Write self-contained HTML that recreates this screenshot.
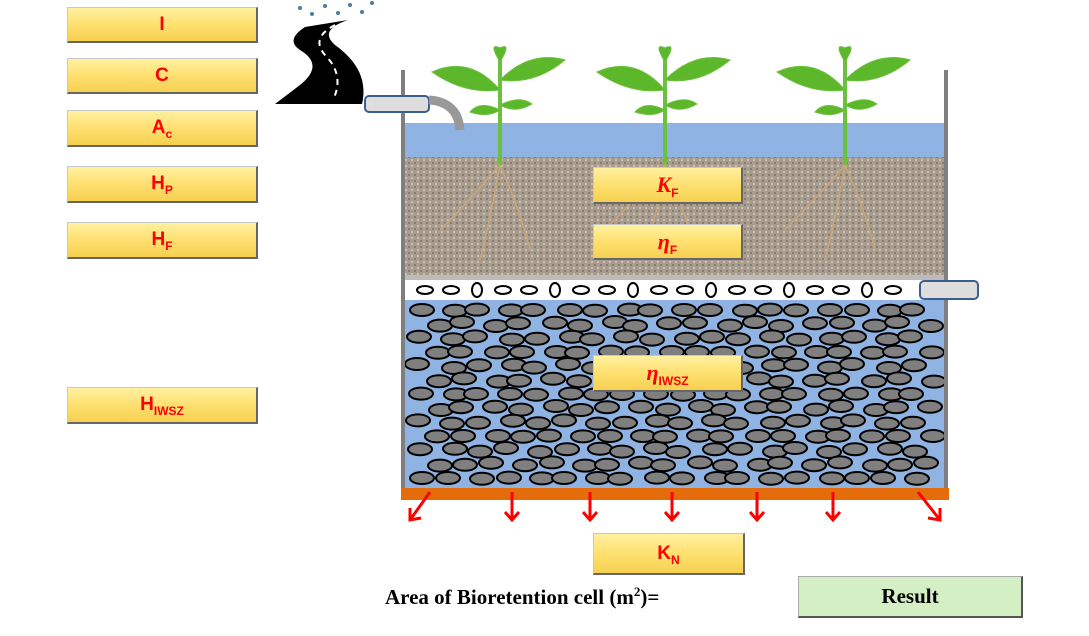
<!DOCTYPE html>
<html><head><meta charset="utf-8"><style>
body{margin:0;width:1089px;height:636px;overflow:hidden;background:#fff;font-family:"Liberation Sans",sans-serif;position:relative}
.btn{position:absolute;box-sizing:border-box;background:linear-gradient(#fff0a0,#ffe070 50%,#f5d050);border:1px solid #c8c8c8;border-right:2px solid #666;border-bottom:2px solid #666;color:#f00;font-weight:bold;font-size:19px;text-align:center;display:flex;align-items:center;justify-content:center}
.btn sub{font-size:12px;vertical-align:-5px;line-height:0}
.it{font-family:"Liberation Serif",serif;font-style:italic;font-size:22px}
</style></head><body>
<svg width="1089" height="636" style="position:absolute;left:0;top:0">
<defs>
<pattern id="soil" width="6" height="6" patternUnits="userSpaceOnUse"><rect width="6" height="6" fill="#a99d8f"/><circle cx="1" cy="1" r="1" fill="#7d7265"/><circle cx="4" cy="4" r="1" fill="#d2c9bd"/></pattern>
</defs>
<g fill="#4a7fa0"><circle cx="300" cy="8" r="2"/><circle cx="312" cy="14" r="2"/><circle cx="325" cy="6" r="2"/><circle cx="338" cy="13" r="2"/><circle cx="350" cy="5" r="2"/><circle cx="362" cy="12" r="2"/><circle cx="372" cy="3" r="2"/></g>
<path d="M275 104 L300 85 Q325 65 300 50 Q285 40 305 27 L348 20 Q318 30 335 45 Q370 70 362 104 Z" fill="#000"/>
<path d="M335 25 Q310 38 325 55 Q345 75 333 100" stroke="#fff" stroke-width="2" stroke-dasharray="6 5" fill="none"/>
<rect x="404" y="123" width="540" height="34" fill="#8fb4e3"/>
<rect x="404" y="157" width="540" height="118" fill="url(#soil)"/>
<rect x="404" y="275" width="540" height="5" fill="#bbb"/>
<rect x="404" y="280" width="540" height="20" fill="#fff"/>
<rect x="404" y="300" width="540" height="188" fill="#8fb4e3"/>
<g id="stones" fill="#7f7f7f" stroke="#000" stroke-width="2"></g>
<g id="pebbles" fill="#fff" stroke="#000" stroke-width="2"></g>
<rect x="401" y="70" width="4" height="420" fill="#7f7f7f"/>
<rect x="944" y="70" width="4" height="420" fill="#7f7f7f"/>
<rect x="401" y="488" width="548" height="12" fill="#e46c0a"/>
<g stroke="#f00" stroke-width="3" fill="none">
<path d="M430 492 L410 520 M410 508 L410 520 L421 518"/>
<path d="M512 492 V520 M505 512 L512 520 L519 512"/><path d="M590 492 V520 M583 512 L590 520 L597 512"/>
<path d="M672 492 V520 M665 512 L672 520 L679 512"/><path d="M757 492 V520 M750 512 L757 520 L764 512"/>
<path d="M833 492 V520 M826 512 L833 520 L840 512"/>
<path d="M918 492 L940 520 M928 518 L940 520 L940 508"/></g>
<g><rect x="365" y="96" width="64" height="16" rx="4" fill="#ddd" stroke="#3a5f8f" stroke-width="2"/><path d="M429 100 Q458 102 460 130" stroke="#999" stroke-width="9" fill="none"/></g>
<rect x="920" y="281" width="58" height="18" rx="4" fill="#ddd" stroke="#3a5f8f" stroke-width="2"/>
<g stroke="#6cc040" fill="#5cb82a">
<g id="plant"><path d="M500 165 V55" stroke-width="4" fill="none"/>
<path d="M500 90 Q470 55 432 72 Q465 95 500 90Z"/><path d="M500 80 Q530 50 565 60 Q535 85 500 80Z"/>
<path d="M500 110 Q480 100 470 112 Q488 118 500 110Z"/><path d="M500 105 Q520 95 532 104 Q515 114 500 105Z"/>
<path d="M500 62 Q488 42 500 48 Q512 42 500 62Z"/>
<path d="M500 165 Q470 200 440 230 M500 165 Q520 210 530 250 M500 165 Q490 220 480 260" stroke="#c9a678" stroke-width="1.5" fill="none"/></g>
<use href="#plant" x="165"/><use href="#plant" x="345"/></g>
</svg>
<div class="btn" style="left:67px;top:7px;width:191px;height:36px"><span>I</span></div>
<div class="btn" style="left:67px;top:58px;width:191px;height:36px"><span>C</span></div>
<div class="btn" style="left:67px;top:110px;width:191px;height:37px"><span>A<sub>c</sub></span></div>
<div class="btn" style="left:67px;top:166px;width:191px;height:37px"><span>H<sub>P</sub></span></div>
<div class="btn" style="left:67px;top:222px;width:191px;height:37px"><span>H<sub>F</sub></span></div>
<div class="btn" style="left:67px;top:387px;width:191px;height:37px"><span>H<sub>IWSZ</sub></span></div>
<div class="btn" style="left:593px;top:167px;width:150px;height:37px"><span><span class="it">K</span><sub>F</sub></span></div>
<div class="btn" style="left:593px;top:224px;width:150px;height:36px"><span><span class="it">η</span><sub>F</sub></span></div>
<div class="btn" style="left:593px;top:355px;width:150px;height:37px"><span><span class="it">η</span><sub>IWSZ</sub></span></div>
<div class="btn" style="left:593px;top:533px;width:152px;height:42px"><span>K<sub>N</sub></span></div>
<div style="position:absolute;left:385px;top:584px;font:bold 21px 'Liberation Serif',serif">Area of Bioretention cell (m<sup style="font-size:13px">2</sup>)=</div>
<div style="position:absolute;left:798px;top:576px;width:225px;height:42px;box-sizing:border-box;background:#d5efc4;border:1px solid #aaa;border-right:2px solid #555;border-bottom:2px solid #555;font:bold 21px 'Liberation Serif',serif;display:flex;align-items:center;justify-content:center">Result</div>
<script>
var ns="http://www.w3.org/2000/svg",g=document.getElementById('stones');
var jit=[0,4,-3,2,-5,3,-1,5,-4,1,-2,4,0,-3,2];
for(var r=0;r<13;r++){for(var c=0;c<18;c++){var x=422+c*29+(r%2)*14+jit[(c+r)%15];
if(x>935)continue;var e=document.createElementNS(ns,'ellipse');


e.setAttribute('cx',x);e.setAttribute('cy',310+r*14+jit[(c*3+r)%15]*0.4);e.setAttribute('rx',12);e.setAttribute('ry',6);
g.appendChild(e);}}
var p=document.getElementById('pebbles');
for(var i=0;i<19;i++){var e=document.createElementNS(ns,'ellipse');


var v=i%3==2;e.setAttribute('cx',425+i*26);e.setAttribute('cy',290);e.setAttribute('rx',v?5:8);e.setAttribute('ry',v?7:4);p.appendChild(e);}
</script>
</body></html>
